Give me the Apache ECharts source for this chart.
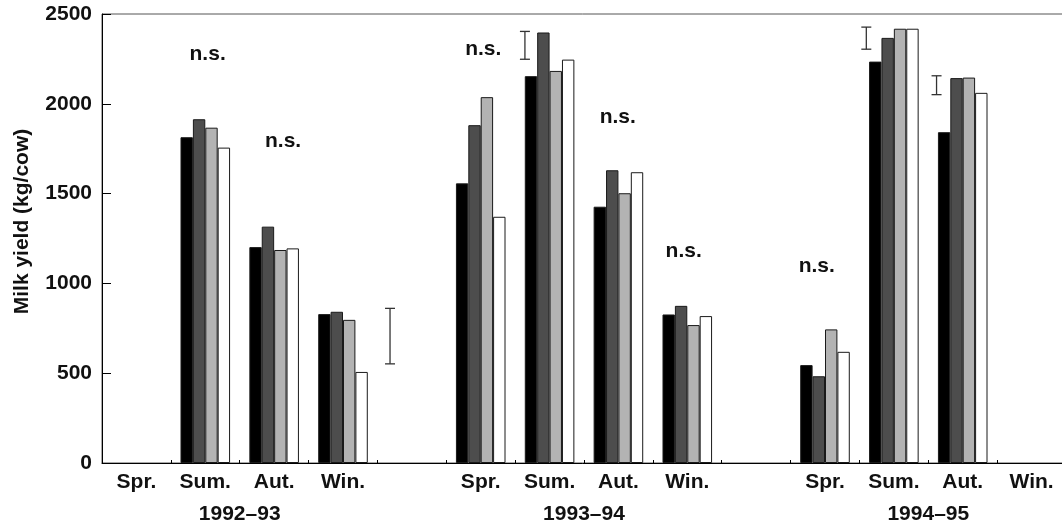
<!DOCTYPE html>
<html>
<head>
<meta charset="utf-8">
<script src="https://cdn.jsdelivr.net/npm/echarts@6/dist/echarts.min.js"></script>
<style>
html,body{margin:0;padding:0;background:#fff;}
#chart{width:1062px;height:525px;}
</style>
</head>
<body>
<div id="chart"></div>
<script>
// ---- data ----
const categories = ['Spr.','Sum.','Aut.','Win.','','Spr.','Sum.','Aut.','Win.','','Spr.','Sum.','Aut.','Win.'];
const yearLabels = ['1992–93','1993–94','1994–95'];
const yearLabelPos = [2, 7, 12];
const seriesA = [null,1814,1202,829,null,1557,2154,1427,827,null,545,2235,1842,null];
const seriesB = [null,1914,1316,842,null,1881,2397,1630,875,null,483,2367,2143,null];
const seriesC = [null,1867,1186,797,null,2037,2183,1502,768,null,744,2418,2146,null];
const seriesD = [null,1756,1195,507,null,1371,2246,1619,818,null,619,2418,2061,null];
const nsX = [1.534, 2.63, 5.537, 7.49, 8.447, 10.38];
const nsY = [2275, 1793, 2302, 1924, 1181, 1097];
const errX = [4.183, 6.142, 11.10, 12.12];
const errLow = [552, 2248, 2304, 2051];
const errHigh = [861, 2403, 2427, 2156];
const yTicks = [0, 500, 1000, 1500, 2000, 2500];

const FONT = 'Liberation Sans, Arial, Helvetica, sans-serif';
const FS = 21;
const chart = echarts.init(document.getElementById('chart'));

const barStyle = (c) => ({ color: c, borderColor: '#1a1a1a', borderWidth: 1 });

chart.setOption({
  animation: false,
  grid: { left: 102, right: -4, top: 14, bottom: 62, containLabel: false, outerBoundsMode: 'none',
          show: true, borderColor: '#555', borderWidth: 1, backgroundColor: 'transparent' },
  xAxis: [
    {
      type: 'category', data: categories, boundaryGap: true,
      axisLine: { show: true, lineStyle: { color: '#000', width: 1 } },
      axisTick: { show: true, inside: true, length: 3, interval: 0, lineStyle: { color: '#000' } },
      axisLabel: { interval: 0, margin: 9, color: '#111', fontFamily: FONT, fontWeight: 'bold', fontSize: FS },
      splitLine: { show: false }
    },
    {
      type: 'value', min: 0, max: 14, interval: 1, position: 'bottom', offset: 33,
      axisLine: { show: false }, axisTick: { show: false }, splitLine: { show: false },
      axisLabel: {
        margin: 8, color: '#111', fontFamily: FONT, fontWeight: 'bold', fontSize: FS,
        showMinLabel: true, showMaxLabel: true,
        formatter: (v) => { const i = yearLabelPos.indexOf(Math.round(v)); return (i >= 0 && Math.abs(v - yearLabelPos[i]) < 1e-6) ? yearLabels[i] : ''; }
      }
    }
  ],
  yAxis: {
    type: 'value', min: yTicks[0], max: yTicks[yTicks.length - 1], interval: 500,
    name: 'Milk yield (kg/cow)', nameLocation: 'middle', nameGap: 69,
    nameTextStyle: { color: '#111', fontFamily: FONT, fontWeight: 'bold', fontSize: FS, padding: [0, 0, 0, 34] },
    axisLine: { show: true, lineStyle: { color: '#000', width: 1 } },
    axisTick: { show: true, inside: true, length: 9, lineStyle: { color: '#000' } },
    axisLabel: { margin: 10, color: '#111', fontFamily: FONT, fontWeight: 'bold', fontSize: FS, formatter: (v) => String(v) },
    splitLine: { show: false }
  },
  series: [
    { type: 'bar', name: 'A', data: seriesA, barGap: '0%', barCategoryGap: '28%', itemStyle: barStyle('#000000') },
    { type: 'bar', name: 'B', data: seriesB, barGap: '0%', barCategoryGap: '28%', itemStyle: barStyle('#4d4d4d') },
    { type: 'bar', name: 'C', data: seriesC, barGap: '0%', barCategoryGap: '28%', itemStyle: barStyle('#b3b3b3') },
    { type: 'bar', name: 'D', data: seriesD, barGap: '0%', barCategoryGap: '28%', itemStyle: barStyle('#ffffff') },
    {
      type: 'scatter', xAxisIndex: 1, symbolSize: 0, silent: true,
      itemStyle: { opacity: 1 },
      data: nsX.map((x, i) => [x, nsY[i]]),
      label: { show: true, position: 'inside', formatter: 'n.s.', color: '#111', opacity: 1, fontFamily: FONT, fontWeight: 'bold', fontSize: FS }
    },
    {
      type: 'custom', xAxisIndex: 1, silent: true,
      data: errX.map((x, i) => [x, errLow[i], errHigh[i]]),
      renderItem: (params, api) => {
        const lo = api.coord([api.value(0), api.value(1)]);
        const hi = api.coord([api.value(0), api.value(2)]);
        const w = 5;
        const style = { stroke: '#333', lineWidth: 1.3 };
        return {
          type: 'group',
          children: [
            { type: 'line', shape: { x1: lo[0], y1: lo[1], x2: hi[0], y2: hi[1] }, style },
            { type: 'line', shape: { x1: lo[0] - w, y1: lo[1], x2: lo[0] + w, y2: lo[1] }, style },
            { type: 'line', shape: { x1: hi[0] - w, y1: hi[1], x2: hi[0] + w, y2: hi[1] }, style }
          ]
        };
      }
    }
  ]
});
</script>
</body>
</html>
